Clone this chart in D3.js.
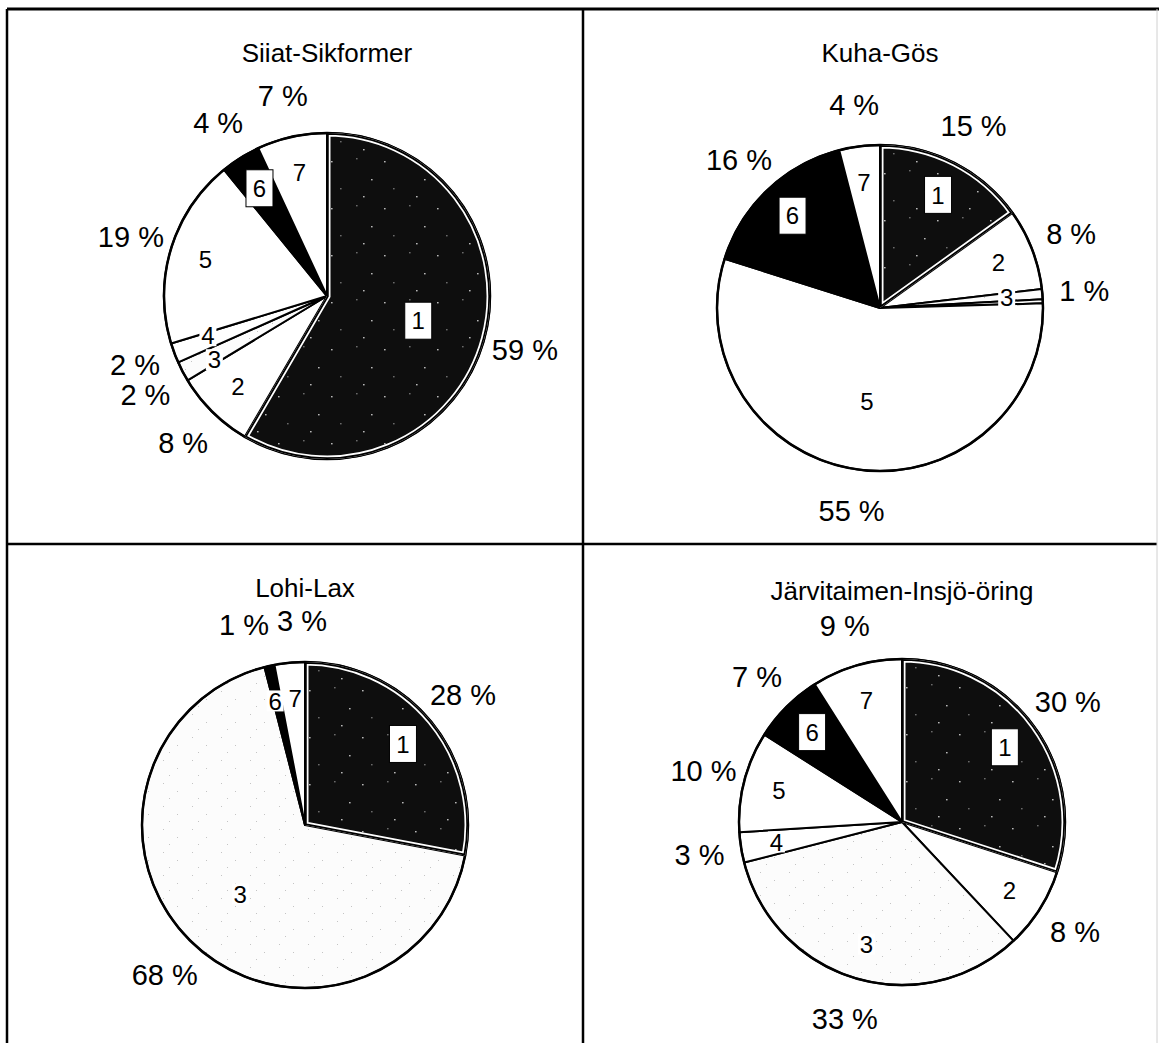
<!DOCTYPE html>
<html>
<head>
<meta charset="utf-8">
<script src="https://cdn.jsdelivr.net/npm/d3@7"></script>
<style>
  body { margin: 0; background: #fff; }
  svg { display: block; font-family: "Liberation Sans", Arial, sans-serif; }
</style>
</head>
<body>
<div id="chart"></div>
<script>
// Slice categories (1-7) and shares (%) per species
const categories = ['1', '2', '3', '4', '5', '6', '7'];
const titles = ['Siiat-Sikformer', 'Kuha-Gös', 'Lohi-Lax', 'Järvitaimen-Insjö-öring'];
const siikaValues = [59, 8, 2, 2, 19, 4, 7];
const kuhaValues = [15, 8, 1, 0.4, 55, 16, 4];
const lohiValues = [28, 0, 68, 0, 0, 1, 3];
const taimenValues = [30, 8, 33, 3, 10, 7, 9];

const seriesList = [siikaValues, kuhaValues, lohiValues, taimenValues];

const config = {
  width: 1159,
  height: 1043,
  frame: {left: 7, top: 9, right: 1157, midX: 583, midY: 544},
  radius: 163,
  // pie centre and title baseline of each panel
  panels: [
    {cx: 327, cy: 296, titleY: 62},
    {cx: 880, cy: 308, titleY: 62},
    {cx: 305, cy: 825, titleY: 597},
    {cx: 902, cy: 822, titleY: 600}
  ],
  pctRadius: 205,
  pctFont: 29,
  innerFont: 24,
  titleFont: 26
};

const fillScale = d3.scaleOrdinal()
    .domain(categories)
    .range(['url(#dark)', '#fff', 'url(#light)', '#fff', '#fff', '#000', '#fff']);
const darkCats = ['1', '6'];

const svg = d3.select('#chart').append('svg')
    .attr('width', config.width)
    .attr('height', config.height);

// patterns: speckled black and faint grey
const defs = svg.append('defs');
const dark = defs.append('pattern').attr('id', 'dark')
    .attr('patternUnits', 'userSpaceOnUse').attr('width', 53).attr('height', 47);
dark.append('rect').attr('width', 53).attr('height', 47).attr('fill', '#0e0e0e');
[[4, 6], [29, 3], [44, 24], [13, 33], [36, 41]].forEach(([x, y], i) => {
  dark.append('rect').attr('x', x).attr('y', y).attr('width', 1.6).attr('height', 1.4)
      .attr('fill', i % 2 ? '#6a6a6a' : '#b8b8b8');
});
const light = defs.append('pattern').attr('id', 'light')
    .attr('patternUnits', 'userSpaceOnUse').attr('width', 29).attr('height', 23);
light.append('rect').attr('width', 29).attr('height', 23).attr('fill', '#fcfcfc');
[[3, 4], [17, 12], [9, 19]].forEach(([x, y]) => {
  light.append('rect').attr('x', x).attr('y', y).attr('width', 1).attr('height', 1).attr('fill', '#c4c4c4');
});

// frame
const f = config.frame;
const frame = svg.append('g').attr('stroke', '#000');
frame.append('line').attr('x1', f.left).attr('x2', config.width).attr('y1', f.top).attr('y2', f.top).attr('stroke-width', 3);
frame.append('line').attr('x1', f.left).attr('x2', f.left).attr('y1', f.top).attr('y2', config.height).attr('stroke-width', 2.5);
frame.append('line').attr('x1', f.midX).attr('x2', f.midX).attr('y1', f.top).attr('y2', config.height).attr('stroke-width', 2.5);
frame.append('line').attr('x1', f.left).attr('x2', f.right).attr('y1', f.midY).attr('y2', f.midY).attr('stroke-width', 2.5);
frame.append('line').attr('x1', f.right).attr('x2', f.right).attr('y1', f.top).attr('y2', config.height)
    .attr('stroke', '#d0d0d0').attr('stroke-width', 1);

const pie = d3.pie().sort(null).value(d => d.v);
const arc = d3.arc().innerRadius(0).outerRadius(config.radius);
const polar = (a, r) => [r * Math.sin(a), -r * Math.cos(a)];

// push overlapping labels apart, sideways near top/bottom, up/down on the sides
function relax(labels, pad) {
  for (let it = 0; it < 150; it++) {
    let moved = false;
    for (let i = 0; i < labels.length; i++) {
      for (let j = i + 1; j < labels.length; j++) {
        const a = labels[i], b = labels[j];
        const dx = b.x - a.x, dy = b.y - a.y;
        const ox = (a.w + b.w) / 2 + pad - Math.abs(dx);
        const oy = (a.h + b.h) / 2 + pad - Math.abs(dy);
        if (ox > 0 && oy > 0) {
          moved = true;
          const ang = (a.a + b.a) / 2;
          const horizontal = Math.abs(Math.cos(ang)) > Math.abs(Math.sin(ang));
          if (horizontal) {
            const s = (dx > 0 || (dx === 0 && b.a > a.a) ? 1 : -1) * ox / 2;
            a.x -= s; b.x += s;
          } else {
            const s = (dy > 0 || (dy === 0 && b.a > a.a) ? 1 : -1) * oy / 2;
            a.y -= s; b.y += s;
          }
        }
      }
    }
    if (!moved) break;
  }
}

seriesList.forEach((values, p) => {
  const cfg = config.panels[p];
  const g = svg.append('g').attr('transform', `translate(${cfg.cx},${cfg.cy})`);
  const data = values.map((v, i) => ({cat: categories[i], v})).filter(d => d.v > 0);
  const total = d3.sum(data, d => d.v);
  const arcs = pie(data);

  svg.append('text')
      .attr('x', cfg.cx)
      .attr('y', cfg.titleY)
      .attr('text-anchor', 'middle')
      .attr('font-size', config.titleFont)
      .text(titles[p]);

  g.selectAll('path.slice')
      .data(arcs)
      .join('path')
      .attr('class', 'slice')
      .attr('d', arc)
      .attr('fill', d => fillScale(d.data.cat))
      .attr('stroke', '#000')
      .attr('stroke-width', 2)
      .attr('stroke-linejoin', 'round');

  // inset white rim on the speckled slice
  arcs.filter(d => d.data.cat === '1').forEach(d => {
    const id = `clip${p}`;
    defs.append('clipPath').attr('id', id).append('path').attr('d', arc(d))
        .attr('transform', `translate(${cfg.cx},${cfg.cy})`);
    const rim = svg.append('g').attr('clip-path', `url(#${id})`)
        .append('g').attr('transform', `translate(${cfg.cx},${cfg.cy})`);
    rim.append('path').attr('d', arc(d)).attr('fill', 'none').attr('stroke', '#fff').attr('stroke-width', 7);
    rim.append('path').attr('d', arc(d)).attr('fill', 'none').attr('stroke', '#000').attr('stroke-width', 3.5);
  });

  g.append('circle').attr('r', config.radius).attr('fill', 'none')
      .attr('stroke', '#000').attr('stroke-width', 2.5);

  const shown = arcs.filter(d => Math.round(d.data.v) > 0);

  // inner category labels
  const inner = shown.map(d => {
    const a = (d.startAngle + d.endAngle) / 2;
    const share = d.data.v / total;
    const [x, y] = polar(a, config.radius * (share > 0.5 ? 0.58 : 0.78));
    const boxed = darkCats.includes(d.data.cat) && share > 0.02;
    return {d, a, x, y, w: boxed ? 27 : 17, h: boxed ? 37 : 21, boxed};
  });
  relax(inner, 3);
  const il = g.selectAll('g.inner').data(inner).join('g')
      .attr('class', 'inner')
      .attr('transform', l => `translate(${l.x},${l.y})`);
  il.append('rect')
      .attr('x', l => -l.w / 2)
      .attr('y', l => -l.h / 2)
      .attr('width', l => l.w)
      .attr('height', l => l.h)
      .attr('fill', '#fff')
      .attr('stroke', l => l.boxed ? '#000' : 'none')
      .attr('stroke-width', 1);
  il.append('text')
      .attr('text-anchor', 'middle')
      .attr('dy', '0.36em')
      .attr('font-size', config.innerFont)
      .text(l => l.d.data.cat);

  // percentage labels, measured then spread apart
  const pct = g.selectAll('text.pct').data(shown).join('text')
      .attr('class', 'pct')
      .attr('dy', '0.36em')
      .attr('text-anchor', 'middle')
      .attr('font-size', config.pctFont)
      .text(d => `${Math.round(d.data.v)} %`);
  const outer = [];
  pct.each(function(d) {
    const a = (d.startAngle + d.endAngle) / 2;
    const [x, y] = polar(a, config.pctRadius);
    outer.push({node: this, a, x, y, w: this.getComputedTextLength(), h: config.pctFont * 0.78});
  });
  relax(outer, 8);
  outer.forEach(l => d3.select(l.node).attr('x', l.x).attr('y', l.y));
});
</script>
</body>
</html>
